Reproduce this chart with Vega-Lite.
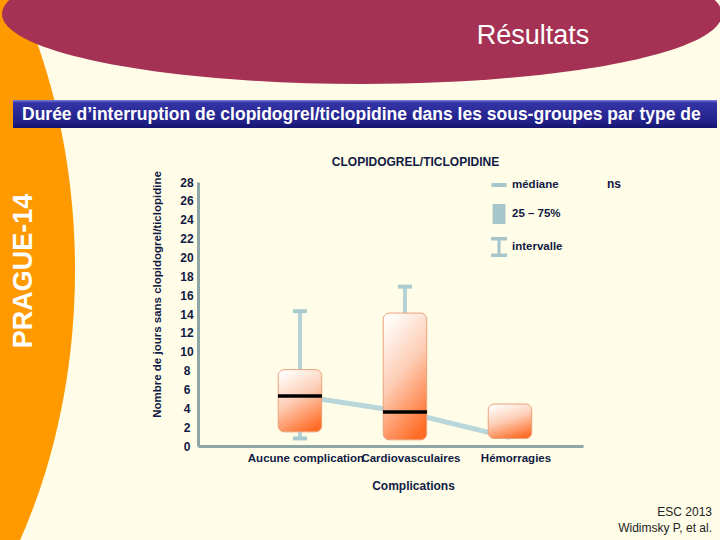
{
  "$schema": "https://vega.github.io/schema/vega-lite/v6.json",
  "background": "#fffde7",
  "padding": 0,
  "bounds": "full",
  "spacing": 0,
  "config": {
    "view": {"stroke": null},
    "font": "Liberation Sans",
    "axisY": {"labelOverlap": false, "tickCount": 20}
  },
  "datasets": {
    "stats": [
      {"cat": "Aucune complication", "min": 0.8, "q1": 1.5, "median": 5.3, "q3": 8.1, "max": 14.3},
      {"cat": "Cardiovasculaires", "min": 0.65, "q1": 0.65, "median": 3.6, "q3": 14.1, "max": 16.9},
      {"cat": "Hémorragies", "min": 0.8, "q1": 0.8, "median": 0.9, "q3": 4.45, "max": 4.45}
    ],
    "deco": [{}]
  },
  "vconcat": [
    {
      "width": 720,
      "height": 100,
      "data": {"name": "deco"},
      "layer": [
        {"mark": {"type": "point", "shape": "M-10.35,2.2A3.75,5.18 0 1,0 -2.85,2.2A3.75,5.18 0 1,0 -10.35,2.2Z", "size": 40000, "filled": true, "color": "#ff9900", "opacity": 1, "strokeWidth": 0, "clip": true}, "encoding": {}},
        {"mark": {"type": "point", "shape": "M-3.58,-0.36A3.6,0.7 0 1,0 3.62,-0.36A3.6,0.7 0 1,0 -3.58,-0.36Z", "size": 40000, "filled": true, "color": "#a53254", "opacity": 1, "strokeWidth": 0, "clip": true}, "encoding": {}},
        {"mark": {"type": "text", "text": "Résultats", "color": "#ffffff", "fontSize": 27, "dx": 173, "dy": -14}, "encoding": {}}
      ]
    },
    {
      "bounds": "flush",
      "spacing": 0,
      "hconcat": [
        {"width": 13, "height": 28, "data": {"name": "deco"}, "mark": {"type": "rect", "color": "#ff9900"}, "encoding": {}},
        {
          "width": 704,
          "height": 28,
          "data": {"name": "deco"},
          "layer": [
            {"mark": {"type": "rect", "color": {"gradient": "linear", "x1": 0, "y1": 0, "x2": 0, "y2": 1, "stops": [{"offset": 0, "color": "#8080e0"}, {"offset": 0.1, "color": "#3434a6"}, {"offset": 0.8, "color": "#202088"}, {"offset": 1, "color": "#14146e"}]}}, "encoding": {}},
            {"mark": {"type": "text", "text": "Durée d’interruption de clopidogrel/ticlopidine dans les sous-groupes par type de", "color": "#ffffff", "fontSize": 17.5, "fontWeight": "bold", "align": "left", "dx": -343, "dy": 1}, "encoding": {}}
          ]
        }
      ]
    },
    {
      "bounds": "flush",
      "spacing": 122,
      "hconcat": [
        {
          "width": 76,
          "height": 412,
          "data": {"name": "deco"},
          "layer": [
            {"mark": {"type": "point", "shape": "M-7.13,-0.64A3.75,5.18 0 1,0 0.37,-0.64A3.75,5.18 0 1,0 -7.13,-0.64Z", "size": 40000, "filled": true, "color": "#ff9900", "opacity": 1, "strokeWidth": 0, "clip": true}, "encoding": {}},
            {"mark": {"type": "text", "text": "PRAGUE-14", "angle": 270, "color": "#ffffff", "fontSize": 27, "fontWeight": "bold", "dx": 63, "dy": -14}, "encoding": {}}
          ]
        },
        {
          "bounds": "flush",
          "spacing": 0,
          "vconcat": [
            {"width": 385, "height": 54, "data": {"name": "deco"}, "mark": {"type": "text", "text": "CLOPIDOGREL/TICLOPIDINE", "fontSize": 12, "fontWeight": "bold", "color": "#111a44", "dx": 25, "dy": 6.5}, "encoding": {}},
            {
              "width": 385,
              "height": 264,
              "data": {"name": "stats"},
              "layer": [
                {
                  "mark": {"type": "line", "color": "#b9d6da", "strokeWidth": 5},
                  "encoding": {
                    "x": {"field": "cat", "type": "nominal", "sort": null, "scale": {"paddingInner": 0.586, "paddingOuter": 0.626, "align": 0.61}, "title": "Complications", "axis": {"labelAngle": 0, "labelFontSize": 11.5, "labelFontWeight": "bold", "labelColor": "#111a44", "labelPadding": 6, "labelOffset": 6, "labelOverlap": false, "labelBound": false, "ticks": false, "tickSize": 0, "domainColor": "#8ea6a6", "domainWidth": 3, "titleFontSize": 12, "titleFontWeight": "bold", "titleColor": "#111a44", "titlePadding": 17, "titleX": 215}},
                    "y": {"field": "median", "type": "quantitative", "scale": {"domain": [0, 28], "nice": false}, "title": "Nombre de jours sans clopidogrel/ticlopidine", "axis": {"values": [0, 2, 4, 6, 8, 10, 12, 14, 16, 18, 20, 22, 24, 26, 28], "tickCount": 20, "labelOverlap": false, "grid": false, "ticks": false, "tickSize": 0, "domainColor": "#8ea6a6", "domainWidth": 3, "labelFontSize": 12, "labelFontWeight": "bold", "labelColor": "#111a44", "labelAlign": "center", "labelPadding": 11.5, "titleFontSize": 11.5, "titleFontWeight": "bold", "titleColor": "#111a44", "titlePadding": 17, "titleY": 112}}
                  }
                },
                {
                  "mark": {"type": "rule", "color": "#b3d2d6", "strokeWidth": 4},
                  "encoding": {
                    "x": {"field": "cat", "type": "nominal", "sort": null},
                    "y": {"field": "min", "type": "quantitative"},
                    "y2": {"field": "max"}
                  }
                },
                {
                  "transform": [{"filter": "datum.max > datum.q3"}],
                  "mark": {"type": "tick", "color": "#a9cace", "size": 14, "thickness": 4, "opacity": 1},
                  "encoding": {
                    "x": {"field": "cat", "type": "nominal", "sort": null},
                    "y": {"field": "max", "type": "quantitative"}
                  }
                },
                {
                  "transform": [{"filter": "datum.min < datum.q1"}],
                  "mark": {"type": "tick", "color": "#a9cace", "size": 14, "thickness": 4, "opacity": 1},
                  "encoding": {
                    "x": {"field": "cat", "type": "nominal", "sort": null},
                    "y": {"field": "min", "type": "quantitative"}
                  }
                },
                {
                  "mark": {"type": "bar", "color": {"gradient": "linear", "x1": 0.3, "y1": 0, "x2": 0.7, "y2": 1, "stops": [{"offset": 0, "color": "#fffbf7"}, {"offset": 0.45, "color": "#fdcdb5"}, {"offset": 1, "color": "#ff6c26"}]}, "stroke": "#e9a27c", "strokeWidth": 1, "cornerRadius": 6},
                  "encoding": {
                    "x": {"field": "cat", "type": "nominal", "sort": null},
                    "y": {"field": "q1", "type": "quantitative"},
                    "y2": {"field": "q3"}
                  }
                },
                {
                  "transform": [{"filter": "datum.median - datum.q1 > 0.5"}],
                  "mark": {"type": "tick", "color": "#000000", "size": 44, "thickness": 3.5, "opacity": 1},
                  "encoding": {
                    "x": {"field": "cat", "type": "nominal", "sort": null},
                    "y": {"field": "median", "type": "quantitative"}
                  }
                },
                {
                  "mark": {"type": "point", "filled": true, "size": 0, "strokeWidth": 0, "color": "#a6c6cb", "opacity": 1},
                  "encoding": {
                    "x": {"field": "cat", "type": "nominal", "sort": null},
                    "y": {"field": "median", "type": "quantitative"},
                    "shape": {"datum": "médiane", "type": "nominal", "scale": {"domain": ["médiane", "25 – 75%", "intervalle"], "range": ["M-0.94,-0.25H0.94V0.25H-0.94Z", "M-0.8,-1.25H0.8V1.25H-0.8Z", "M-1,-1.25H1V-0.8H0.2V0.8H1V1.25H-1V0.8H-0.2V-0.8H-1Z"]}, "legend": {"orient": "none", "legendX": 491, "legendY": 177, "title": null, "symbolSize": 256, "labelFontSize": 11.5, "labelFontWeight": "bold", "labelColor": "#111a44", "labelOffset": 5, "rowPadding": 13, "padding": 0, "symbolStrokeWidth": 0}}
                  }
                },
                {"data": {"name": "deco"}, "mark": {"type": "text", "text": "ns", "fontSize": 12, "fontWeight": "bold", "color": "#111a44", "dx": 223.5, "dy": -130}, "encoding": {}},
                {"data": {"name": "deco"}, "mark": {"type": "text", "text": "ESC 2013", "fontSize": 12, "color": "#222222", "align": "right", "dx": 321.5, "dy": 198}, "encoding": {}},
                {"data": {"name": "deco"}, "mark": {"type": "text", "text": "Widimsky P, et al.", "fontSize": 12, "color": "#222222", "align": "right", "dx": 321.5, "dy": 214}, "encoding": {}}
              ]
            }
          ]
        }
      ]
    }
  ]
}
